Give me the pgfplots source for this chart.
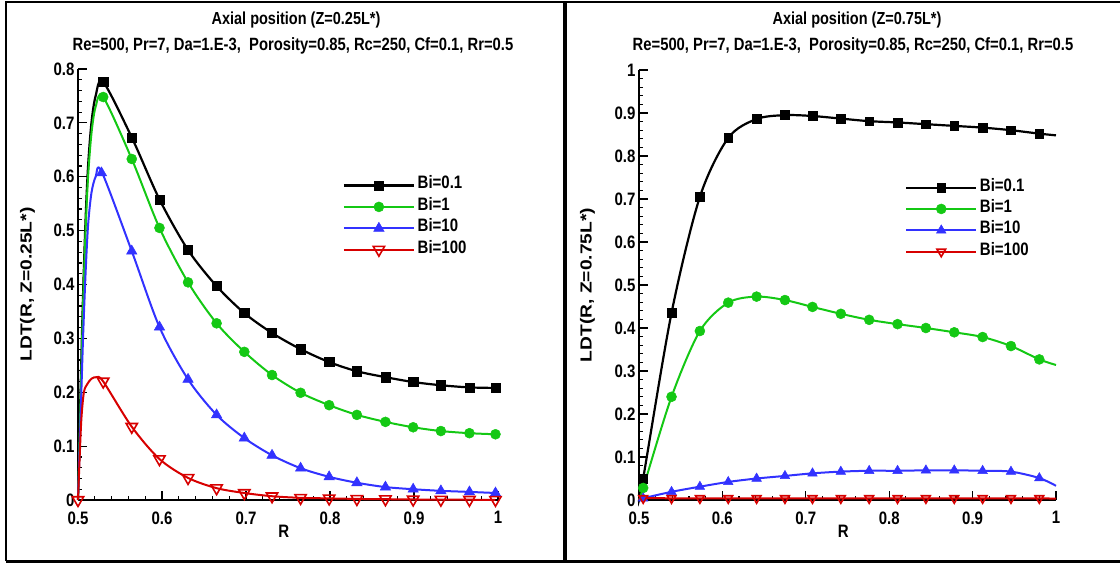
\documentclass[border=0pt]{standalone}
\usepackage{fontspec}
\setmainfont{Liberation Sans}
\usepackage{graphicx}
\usepackage{pgfplots}
\pgfplotsset{compat=1.18}
\definecolor{cgreen}{RGB}{20,200,20}
\definecolor{cblue}{RGB}{50,50,255}
\definecolor{cred}{RGB}{215,0,0}
\newcommand{\fs}[1]{\fontsize{#1}{#1}\selectfont\bfseries}
\newcommand{\vs}[1]{\scalebox{1}[1.2]{#1}}
\pgfplotsset{
  myax/.style={
    scale only axis, clip=false,
    axis lines*=left,
    axis line style={-, line width=2pt, black},
    tick align=inside,
    major tick length=9pt, minor tick length=4pt,
    tick style={black, line width=1.2pt},
    minor tick num=4,
    xmin=0.5, xmax=1, xtick distance=0.1,
    ticklabel style={font=\fs{15}},
    /pgf/number format/assume math mode=true,
    /pgf/number format/fixed, /pgf/number format/precision=1,
    xticklabel={\vs{\pgfmathprintnumber{\tick}}},
    yticklabel={\vs{\pgfmathprintnumber{\tick}}},
    xticklabel style={yshift=-8pt},
    xlabel={\vs{R}},
    xlabel style={font=\fs{15}, at={(axis description cs:0.49,0)}, anchor=center, yshift=-31pt},
    ylabel style={font=\fs{16}, anchor=south, inner sep=0pt},
    legend style={draw=none, fill=none, font=\fs{15}, anchor=north west, inner sep=0pt,
      nodes={text height=11.5pt, text depth=4.5pt, inner sep=2.7pt}},
    legend cell align=left,
    legend image code/.code={\draw[##1, mark=none, only marks=false] (0pt,0pt) -- (70pt,0pt);
      \draw[##1] plot coordinates {(35pt,0pt)};},
  },
  lk/.style={black, line width=2.2pt, smooth, no marks},
  lg/.style={cgreen, line width=2pt, smooth, no marks},
  lb/.style={cblue, line width=2pt, smooth, no marks},
  lr/.style={cred, line width=2pt, smooth, no marks},
  mk/.style={black, line width=2.2pt, only marks, mark=square*, mark size=4.6pt, mark options={fill=black, line width=0.5pt}},
  mg/.style={cgreen, line width=2pt, only marks, mark=*, mark size=5pt, mark options={fill=cgreen, line width=0.5pt}},
  mb/.style={cblue, line width=2pt, only marks, mark=triangle*, mark size=6pt, mark options={fill=cblue, line width=0.5pt}},
  mr/.style={cred, line width=2pt, only marks, mark=triangle, mark size=6.5pt, mark options={fill=white, rotate=180, line width=1.6pt}},
}
\begin{document}
\begin{tikzpicture}
\useasboundingbox (0pt,0pt) rectangle (1120pt,563pt);
% frames
\draw[line width=2.5pt] (6pt,2pt) -- (6pt,561pt) -- (1130pt,561pt);
\draw[line width=3pt] (6pt,2pt) -- (1130pt,2pt);
\draw[line width=4pt] (565pt,2pt) -- (565pt,561pt);
% titles
\node[font=\fs{14.5}] at (296pt,543pt) {\vs{Axial position (Z=0.25L*)}};
\node[font=\fs{14.8}] at (293pt,517pt) {\vs{Re=500, Pr=7, Da=1.E-3,\ \ Porosity=0.85, Rc=250, Cf=0.1, Rr=0.5}};
\node[font=\fs{14.5}] at (857pt,543pt) {\vs{Axial position (Z=0.75L*)}};
\node[font=\fs{14.8}] at (853pt,517pt) {\vs{Re=500, Pr=7, Da=1.E-3,\ \ Porosity=0.85, Rc=250, Cf=0.1, Rr=0.5}};

% ---------------- left axis ----------------
\begin{axis}[myax, at={(78pt,63pt)}, anchor=south west, width=420pt, height=431pt,
  ymin=0, ymax=0.8, ytick distance=0.1,
  ylabel={\scalebox{1.2}[1]{LDT(R, Z=0.25L*)}},
  ylabel style={at={(axis description cs:-0.102,0.5)}},
  legend style={at={(axis description cs:0.63,0.755)}}]
\addplot[lk, forget plot] coordinates {(0.5,0) (0.503,0.2) (0.506,0.38) (0.509,0.52) (0.512,0.62) (0.516,0.70) (0.521,0.75)
 (0.530,0.776) (0.564,0.673) (0.597,0.558) (0.631,0.464) (0.665,0.397) (0.698,0.347) (0.731,0.310) (0.765,0.280)
 (0.799,0.256) (0.832,0.239) (0.866,0.228) (0.899,0.219) (0.932,0.213) (0.966,0.209) (0.997,0.208)};
\addplot[mk] coordinates {(0.530,0.776) (0.564,0.673) (0.597,0.558) (0.631,0.464) (0.665,0.397) (0.698,0.347) (0.731,0.310) (0.765,0.280)
 (0.799,0.256) (0.832,0.239) (0.866,0.228) (0.899,0.219) (0.932,0.213) (0.966,0.209) (0.997,0.208)};
\addlegendentry{\vs{Bi=0.1}}
\addplot[lg, forget plot] coordinates {(0.5,0) (0.503,0.18) (0.506,0.36) (0.509,0.50) (0.512,0.60) (0.516,0.68) (0.521,0.73)
 (0.530,0.748) (0.564,0.633) (0.597,0.505) (0.631,0.404) (0.665,0.328) (0.698,0.275) (0.731,0.232) (0.765,0.199)
 (0.799,0.176) (0.832,0.158) (0.866,0.145) (0.899,0.135) (0.932,0.128) (0.966,0.124) (0.997,0.122)};
\addplot[mg] coordinates {(0.530,0.748) (0.564,0.633) (0.597,0.505) (0.631,0.404) (0.665,0.328) (0.698,0.275) (0.731,0.232) (0.765,0.199)
 (0.799,0.176) (0.832,0.158) (0.866,0.145) (0.899,0.135) (0.932,0.128) (0.966,0.124) (0.997,0.122)};
\addlegendentry{\vs{Bi=1}}
\addplot[lb, forget plot] coordinates {(0.5,0) (0.503,0.15) (0.506,0.30) (0.509,0.42) (0.512,0.51) (0.516,0.57) (0.521,0.60)
 (0.528,0.610) (0.564,0.462) (0.597,0.321) (0.631,0.224) (0.665,0.158) (0.698,0.115) (0.731,0.083) (0.765,0.059)
 (0.799,0.043) (0.832,0.032) (0.866,0.024) (0.899,0.020) (0.932,0.017) (0.966,0.015) (0.997,0.013)};
\addplot[mb] coordinates {(0.528,0.607) (0.564,0.462) (0.597,0.321) (0.631,0.224) (0.665,0.158) (0.698,0.115) (0.731,0.083) (0.765,0.059)
 (0.799,0.043) (0.832,0.032) (0.866,0.024) (0.899,0.020) (0.932,0.017) (0.966,0.015) (0.997,0.013)};
\addlegendentry{\vs{Bi=10}}
\addplot[lr, forget plot] coordinates {(0.5,0) (0.502,0.08) (0.504,0.15) (0.507,0.20) (0.511,0.215) (0.516,0.225) (0.522,0.228)
 (0.530,0.220) (0.564,0.136) (0.597,0.076) (0.631,0.041) (0.665,0.022) (0.698,0.013) (0.731,0.007) (0.765,0.004)
 (0.799,0.003) (0.832,0.002) (0.866,0.0015) (0.899,0.001) (0.932,0.0007) (0.966,0.0005) (0.997,0.0003)};
\addplot[mr] coordinates {(0.5,0) (0.530,0.220) (0.564,0.136) (0.597,0.076) (0.631,0.041) (0.665,0.022) (0.698,0.013) (0.731,0.007) (0.765,0.004)
 (0.799,0.003) (0.832,0.002) (0.866,0.0015) (0.899,0.001) (0.932,0.0007) (0.966,0.0005) (0.997,0.0003)};
\addlegendentry{\vs{Bi=100}}
\end{axis}

% ---------------- right axis ----------------
\begin{axis}[myax, at={(639pt,63pt)}, anchor=south west, width=417pt, height=430pt,
  ymin=0, ymax=1, ytick distance=0.1,
  ylabel={\scalebox{1.2}[1]{LDT(R, Z=0.75L*)}},
  ylabel style={at={(axis description cs:-0.105,0.5)}},
  legend style={at={(axis description cs:0.638,0.752)}}]
\addplot[lk, forget plot] coordinates {(0.5,0) (0.505,0.05) (0.539,0.435) (0.573,0.705) (0.607,0.842) (0.641,0.886) (0.675,0.895)
 (0.708,0.893) (0.742,0.887) (0.776,0.881) (0.810,0.878) (0.844,0.874) (0.878,0.870) (0.912,0.866) (0.946,0.860) (0.980,0.852) (1.0,0.848)};
\addplot[mk, mark size=4.4pt, line width=2pt] coordinates {(0.505,0.05) (0.539,0.435) (0.573,0.705) (0.607,0.842) (0.641,0.886) (0.675,0.895)
 (0.708,0.893) (0.742,0.887) (0.776,0.881) (0.810,0.878) (0.844,0.874) (0.878,0.870) (0.912,0.866) (0.946,0.860) (0.980,0.852)};
\addlegendentry{\vs{Bi=0.1}}
\addplot[lg, forget plot] coordinates {(0.5,0) (0.505,0.028) (0.539,0.240) (0.573,0.393) (0.607,0.459) (0.641,0.473) (0.675,0.465)
 (0.708,0.449) (0.742,0.433) (0.776,0.419) (0.810,0.409) (0.844,0.400) (0.878,0.390) (0.912,0.379) (0.946,0.358) (0.980,0.327) (1.0,0.314)};
\addplot[mg] coordinates {(0.505,0.028) (0.539,0.240) (0.573,0.393) (0.607,0.459) (0.641,0.473) (0.675,0.465)
 (0.708,0.449) (0.742,0.433) (0.776,0.419) (0.810,0.409) (0.844,0.400) (0.878,0.390) (0.912,0.379) (0.946,0.358) (0.980,0.327)};
\addlegendentry{\vs{Bi=1}}
\addplot[lb, forget plot] coordinates {(0.5,0) (0.505,0.004) (0.539,0.019) (0.573,0.031) (0.607,0.042) (0.641,0.050) (0.675,0.056)
 (0.708,0.062) (0.742,0.066) (0.776,0.068) (0.810,0.068) (0.844,0.069) (0.878,0.069) (0.912,0.068) (0.946,0.066) (0.980,0.051) (1.0,0.033)};
\addplot[mb, mark size=5.5pt] coordinates {(0.505,0.004) (0.539,0.019) (0.573,0.031) (0.607,0.042) (0.641,0.050) (0.675,0.056)
 (0.708,0.062) (0.742,0.066) (0.776,0.068) (0.810,0.068) (0.844,0.069) (0.878,0.069) (0.912,0.068) (0.946,0.066) (0.980,0.051)};
\addlegendentry{\vs{Bi=10}}
\addplot[lr, forget plot] coordinates {(0.5,0) (0.505,0.004) (0.539,0.004) (0.573,0.004) (0.607,0.004) (0.641,0.004) (0.675,0.004)
 (0.708,0.004) (0.742,0.004) (0.776,0.004) (0.810,0.004) (0.844,0.004) (0.878,0.004) (0.912,0.004) (0.946,0.004) (0.980,0.004) (1.0,0.003)};
\addplot[mr, mark size=5pt] coordinates {(0.505,0.004) (0.539,0.004) (0.573,0.004) (0.607,0.004) (0.641,0.004) (0.675,0.004)
 (0.708,0.004) (0.742,0.004) (0.776,0.004) (0.810,0.004) (0.844,0.004) (0.878,0.004) (0.912,0.004) (0.946,0.004) (0.980,0.004)};
\addlegendentry{\vs{Bi=100}}
\end{axis}
\end{tikzpicture}
\end{document}
